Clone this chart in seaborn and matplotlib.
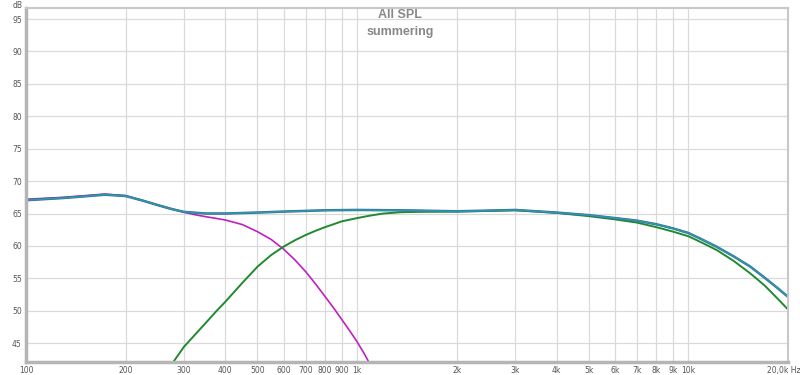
import pandas as pd
import seaborn as sns
import matplotlib.pyplot as plt
import matplotlib.transforms as mtransforms
from matplotlib.ticker import FixedLocator, NullLocator

# values (Hz, dB)
sum_freq = [100, 130, 150, 173, 200, 225, 250, 275, 300, 350, 400, 500, 600, 800, 1000,
            1350, 2000, 2500, 3000, 4000, 5000, 6000, 7000, 8000, 9000, 10000, 11000,
            12200, 13700, 15400, 17000, 18500, 20000]
sum_db = [67.05, 67.4, 67.65, 67.9, 67.7, 67.0, 66.3, 65.7, 65.25, 65.0, 65.0, 65.15,
          65.3, 65.5, 65.55, 65.5, 65.35, 65.45, 65.55, 65.15, 64.75, 64.3, 63.9, 63.35,
          62.7, 62.0, 61.0, 59.85, 58.4, 56.8, 55.1, 53.6, 52.15]

woofer_freq = [100, 130, 150, 173, 200, 225, 250, 275, 300, 325, 350, 375, 400, 450,
               500, 550, 600, 650, 700, 750, 800, 850, 900, 950, 1000, 1050, 1100]
woofer_db = [67.2, 67.5, 67.75, 68.0, 67.75, 67.0, 66.3, 65.7, 65.2, 64.8, 64.5, 64.25,
             64.0, 63.3, 62.2, 61.0, 59.5, 57.8, 56.0, 54.1, 52.2, 50.4, 48.6, 46.9,
             45.2, 43.4, 41.5]

tweeter_freq = [275, 300, 325, 350, 375, 400, 450, 500, 550, 600, 650, 700, 750, 800,
                900, 1000, 1100, 1200, 1350, 1500, 2000, 3000, 4000, 5000, 6000, 7000,
                8000, 9000, 10000, 11000, 12200, 13700, 15400, 17000, 18500, 20000]
tweeter_db = [41.7, 44.45, 46.4, 48.2, 49.9, 51.4, 54.3, 56.8, 58.6, 59.9, 60.9, 61.7,
              62.35, 62.9, 63.8, 64.3, 64.7, 65.0, 65.2, 65.25, 65.3, 65.5, 65.1, 64.6,
              64.1, 63.6, 62.9, 62.2, 61.5, 60.5, 59.35, 57.7, 55.75, 53.9, 52.0, 50.2]

x_ticks = [100, 200, 300, 400, 500, 600, 700, 800, 900, 1000, 2000, 3000, 4000,
           5000, 6000, 7000, 8000, 9000, 10000, 20000]
x_labels = ['100', '200', '300', '400', '500', '600', '700', '800', '900', '1k',
            '2k', '3k', '4k', '5k', '6k', '7k', '8k', '9k', '10k', '20,0k Hz']
y_ticks = [45, 50, 55, 60, 65, 70, 75, 80, 85, 90, 95]

sns.set_style('white')
plt.rcParams['font.family'] = ['DejaVu Sans']

fig = plt.figure(figsize=(8, 3.75), dpi=100)
ax = fig.add_axes([26 / 800, 13 / 375, 762 / 800, 354 / 375])

sums = pd.DataFrame({'f': sum_freq, 'db': sum_db})
woof = pd.DataFrame({'f': woofer_freq, 'db': woofer_db})
tw = pd.DataFrame({'f': tweeter_freq, 'db': tweeter_db})

sns.lineplot(data=woof, x='f', y='db', color='#c020c0', lw=1.2, ax=ax)
sns.lineplot(data=tw, x='f', y='db', color='#1f8a2e', lw=1.4, ax=ax)
sns.lineplot(data=sums, x='f', y='db', color='#3a64ac', lw=1.8, ax=ax)
sns.lineplot(data=sums, x='f', y='db', color='#2a9c9c', lw=1.1, ax=ax)

ax.set_xscale('log')
ax.set_xlim(100, 20000)
ax.set_ylim(42.1, 96.7)
ax.xaxis.set_major_locator(FixedLocator(x_ticks))
ax.xaxis.set_minor_locator(NullLocator())
ax.set_xticks(x_ticks)
ax.set_xticklabels(x_labels)
ax.set_yticks(y_ticks)
ax.set_yticklabels([str(v) for v in y_ticks])
ax.tick_params(axis='both', length=0, labelsize=5.5, labelcolor='#555555', pad=3)
ax.grid(True, color='#dadada', lw=0.9)
ax.set_xlabel('')
ax.set_ylabel('')

# nudge the last frequency label left so it stays inside the image
last = ax.get_xticklabels()[-1]
last.set_transform(last.get_transform() + mtransforms.ScaledTranslation(-4 / 100, 0, fig.dpi_scale_trans))

for side in ['left', 'bottom']:
    ax.spines[side].set_color('#b5b5b5')
    ax.spines[side].set_linewidth(2.5)
for side in ['top', 'right']:
    ax.spines[side].set_color('#c8c8c8')
    ax.spines[side].set_linewidth(1.5)

fig.text(18 / 800, 1 - 5 / 375, 'dB', fontsize=5.5, color='#555555', ha='center', va='center')
fig.text(400 / 800, 1 - 15.5 / 375, 'All SPL', fontsize=9, color='#888888',
         ha='center', va='center', fontweight='bold', family='Liberation Sans')
fig.text(400 / 800, 1 - 32 / 375, 'summering', fontsize=9, color='#888888',
         ha='center', va='center', fontweight='bold', family='Liberation Sans')

fig.savefig('out.png', dpi=100)
